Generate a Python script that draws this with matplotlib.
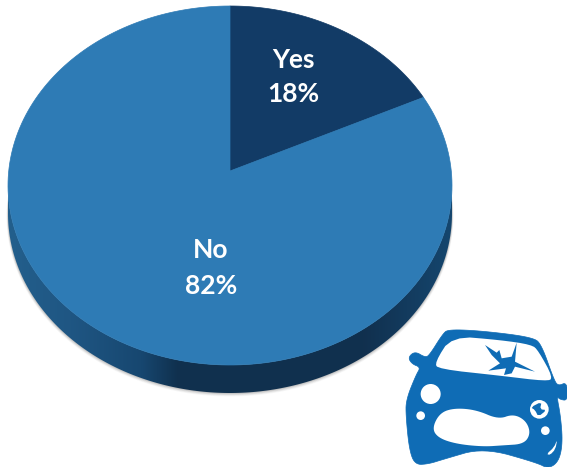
import numpy as np
import matplotlib
matplotlib.use('Agg')
import matplotlib.pyplot as plt
from matplotlib.colors import LinearSegmentedColormap
from matplotlib.patches import Polygon, Circle

labels = ['Yes', 'No']
shares = [18, 82]
slice_colors = ['#123B66', '#2E7BB5']
label_pos = [(293, 77), (211, 268)]

# pie geometry in pixels (apex sits above the ellipse centre, fake perspective)
cx, cy, rx, ry = 230, 185.5, 222, 179.5
apex_x, apex_y = 230, 171
depth = 28


def rim_point(share_so_far):
    # ray from apex to the ellipse for a clockwise angle measured from the top
    a = np.radians(share_so_far / sum(shares) * 360)
    dx, dy = np.sin(a) * rx, -np.cos(a) * ry
    ox = apex_x - cx
    oy = apex_y - cy
    A = (dx / rx) ** 2 + (dy / ry) ** 2
    B = 2 * (ox * dx / rx ** 2 + oy * dy / ry ** 2)
    C = (ox / rx) ** 2 + (oy / ry) ** 2 - 1
    s = (-B + np.sqrt(B * B - 4 * A * C)) / (2 * A)
    return apex_x + s * dx, apex_y + s * dy


def wedge(start, stop):
    steps = np.linspace(start, stop, 200)
    return [(apex_x, apex_y)] + [rim_point(v) for v in steps]


fig = plt.figure(figsize=(5.67, 4.67), dpi=100)
ax = fig.add_axes([0, 0, 1, 1])
ax.set_xlim(0, 567)
ax.set_ylim(467, 0)
ax.axis('off')

# soft shadow under the pie
t = np.linspace(0, 2 * np.pi, 300)
for grow, alpha in zip([5, 4, 3, 2, 1], [0.03, 0.04, 0.05, 0.06, 0.08]):
    ax.fill(cx + (rx + grow * 0.3) * np.cos(t), cy + depth + grow * 0.5 + (ry + grow * 0.2) * np.sin(t),
            color='black', alpha=alpha, lw=0, zorder=1)

# side of the pie, darker towards the middle
t = np.linspace(0, np.pi, 200)
side_pts = list(zip(cx + rx * np.cos(t), cy + ry * np.sin(t) + depth)) + \
    list(zip(cx + rx * np.cos(t[::-1]), cy + ry * np.sin(t[::-1])))
side_cmap = LinearSegmentedColormap.from_list('side', [(0, '#235F8C'), (0.14, '#1F5683'), (0.3, '#174770'),
                                                       (0.38, '#10314F'), (0.8, '#11304E'), (1, '#15466E')])
side_img = ax.imshow(np.linspace(0, 1, 256).reshape(1, -1), cmap=side_cmap, extent=[cx - rx, cx + rx, 400, 150],
                     aspect='auto', zorder=2)
side_patch = Polygon(side_pts, closed=True, transform=ax.transData, fc='none', ec='none')
ax.add_patch(side_patch)
side_img.set_clip_path(side_patch)
ax.set_xlim(0, 567)
ax.set_ylim(467, 0)

# top slices
cum = 0
for lab, val, col in zip(labels, shares, slice_colors):
    ax.add_patch(Polygon(wedge(cum, cum + val), closed=True, fc=col, ec=col, lw=0.5, zorder=3))
    cum += val

for lab, val, pos in zip(labels, shares, label_pos):
    ax.text(pos[0], pos[1], f'{lab}\n{val}%', color='white', fontsize=19, fontweight='bold', family='Lato',
            ha='center', va='center', linespacing=1.55, zorder=4)


# car icon (crop coordinates, 3x), corners rounded
def car(pts, rounds=3):
    pts = np.array(pts, dtype=float)
    for _ in range(rounds):
        nxt = np.roll(pts, -1, axis=0)
        pts = np.column_stack([0.75 * pts + 0.25 * nxt, 0.25 * pts + 0.75 * nxt]).reshape(-1, 2)
    return [(400 + x / 3, 320 + y / 3) for x, y in pts]


blue = '#0F6CB5'
body = [(145, 28), (250, 33), (400, 52), (425, 75), (462, 180), (475, 198), (501, 186), (504, 242), (478, 238),
        (470, 226), (482, 290), (488, 370), (476, 425), (445, 446), (410, 428), (250, 383), (130, 418), (85, 432),
        (45, 434), (28, 390), (18, 290), (18, 240), (48, 165), (62, 142), (36, 132), (24, 112), (45, 94), (75, 112),
        (88, 106), (128, 42)]
ax.add_patch(Polygon(car(body), closed=True, fc=blue, ec=blue, lw=0.5, zorder=5))
windshield = [(155, 48), (300, 60), (395, 74), (415, 92), (460, 174), (440, 184), (300, 167), (115, 147), (104, 128)]
ax.add_patch(Polygon(car(windshield, 2), closed=True, fc='white', ec='none', zorder=6))
crack = [(255, 75), (290, 98), (298, 90), (305, 115), (335, 110), (350, 68), (345, 125), (405, 155), (345, 140),
         (335, 160), (312, 165), (318, 145), (265, 152), (300, 130), (275, 105)]
ax.add_patch(Polygon(car(crack, 0), closed=True, fc=blue, ec='none', zorder=7))
grille = [(96, 325), (120, 278), (165, 264), (230, 270), (295, 298), (340, 282), (378, 302), (392, 340), (372, 372),
          (310, 376), (250, 380), (170, 372), (115, 354)]
ax.add_patch(Polygon(car(grille), closed=True, fc='white', ec='none', zorder=6))
for (x, y), r in zip([(92, 222), (62, 287), (418, 268), (436, 332)], [30, 13, 28, 13]):
    ax.add_patch(Circle((400 + x / 3, 320 + y / 3), r / 3, fc='white', ec='none', zorder=6))
notch = [(392, 262), (425, 245), (420, 268), (440, 270), (415, 290), (405, 270)]
ax.add_patch(Polygon(car(notch, 1), closed=True, fc=blue, ec='none', zorder=7))
sliver = [(440, 402), (462, 382), (472, 358), (466, 388), (450, 405)]
ax.add_patch(Polygon(car(sliver, 1), closed=True, fc='white', ec='none', zorder=6))

fig.savefig('out.png', dpi=100)
